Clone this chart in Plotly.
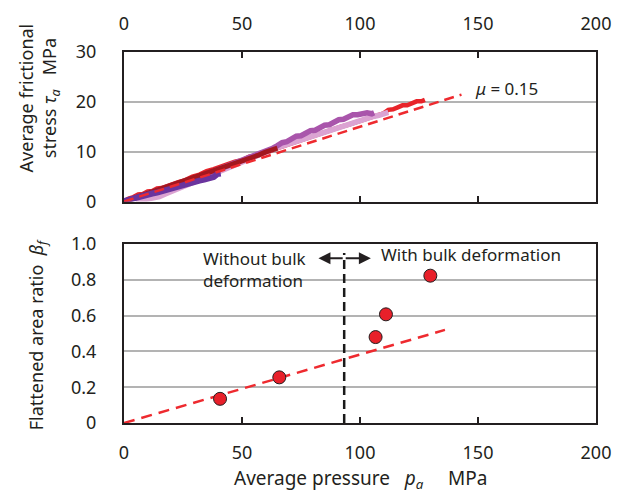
import plotly.graph_objects as go

# ---- Frictional stress curves (average pressure p_a, MPa -> tau_a, MPa) ----
red_p = [0, 2, 4, 6, 8, 10, 12, 14, 16, 18, 20, 23, 26, 29, 32, 35, 38, 41, 44, 47, 50,
         53, 56, 59, 62, 65, 68, 71, 74, 77, 80, 83, 86, 89, 92, 95, 98, 101, 104, 107,
         110, 112, 114, 116, 118, 120, 122, 124, 126, 127.5]
red_t = [0, 0.6, 0.9, 1.4, 1.5, 2.0, 2.1, 2.6, 2.7, 3.1, 3.3, 3.9, 4.3, 5.0, 5.4, 6.1, 6.5,
         7.1, 7.5, 8.0, 8.3, 9.0, 9.2, 9.9, 10.1, 10.7, 11.2, 11.7, 12.1, 12.7, 13.1, 13.6,
         14.1, 14.5, 15.0, 15.4, 15.9, 16.4, 16.8, 17.3, 17.7, 18.4, 18.5, 18.9, 19.3, 19.3,
         19.8, 20.1, 20.1, 20.4]

pink_p = [5, 7, 9, 11, 13, 15, 18, 22, 26, 30, 35, 40, 45, 50, 55, 60, 65, 70, 74, 78,
          82, 86, 90, 94, 98, 102, 105, 108, 110, 112]
pink_t = [0, 0.2, 0.3, 0.6, 0.7, 1.0, 1.6, 2.4, 3.3, 4.1, 5.1, 6.1, 7.0, 8.1, 9.0, 9.9,
          10.8, 11.6, 12.1, 12.8, 13.4, 14.1, 14.7, 15.2, 16.0, 16.5, 17.0, 17.3, 17.7,
          17.9]

magenta_p = [0, 4, 8, 12, 16, 20, 24, 28, 32, 36, 40, 44, 48, 52, 56, 60, 63, 65, 67, 69,
             71, 73, 75, 77, 79, 81, 83, 85, 87, 89, 91, 93, 95, 97, 99, 101, 103, 105, 106]
magenta_t = [0, 0.6, 1.2, 1.9, 2.5, 3.1, 3.8, 4.4, 5.0, 5.7, 6.4, 7.1, 7.8, 8.5, 9.3, 10.0,
             10.7, 11.2, 11.8, 12.0, 12.5, 13.1, 13.2, 13.7, 14.2, 14.3, 14.8, 15.3, 15.4,
             15.9, 16.4, 16.5, 17.0, 17.4, 17.4, 17.7, 17.8, 17.6, 17.8]

maroon_p = [0, 5, 10, 15, 20, 25, 30, 35, 40, 45, 48, 51, 54, 57, 60, 62, 64, 65]
maroon_t = [0, 0.8, 1.6, 2.4, 3.2, 4.0, 4.8, 5.6, 6.5, 7.3, 7.7, 8.3, 8.8, 9.3, 9.9, 10.2,
            10.5, 10.7]

violet_p = [0, 2, 4, 6, 8, 10, 12, 14, 16, 18, 20, 22, 24, 26, 28, 30, 32, 34, 36, 38,
            39.5, 41]
violet_t = [0.1, 0.4, 0.6, 0.9, 1.1, 1.4, 1.6, 1.8, 2.1, 2.3, 2.6, 2.9, 3.1, 3.4, 3.7,
            3.9, 4.2, 4.4, 4.7, 4.9, 5.5, 5.6]

# Coulomb friction reference line
mu = 0.15
mu_line_p = [0, 143]

# ---- Flattened area ratio ----
beta_p = [40.7, 65.8, 106.6, 111.0, 129.8]
beta_f = [0.135, 0.255, 0.48, 0.607, 0.823]

beta_fit_p = [0, 136]
beta_fit = [0, 0.52]

# boundary between regimes
bulk_p = 93.3
bulk_beta = [0, 0.95]

x_ticks = [0, 50, 100, 150, 200]
tau_ticks = [0, 10, 20, 30]
beta_ticks = [0, 0.2, 0.4, 0.6, 0.8, 1.0]
beta_tick_text = ["0", "0.2", "0.4", "0.6", "0.8", "1.0"]

FONT = "Noto Sans"
TXT = "#231f20"

fig = go.Figure()

curves = [
    (red_p, red_t, "#e8242a", 4.5),
    (pink_p, pink_t, "#dba3d2", 5.5),
    (magenta_p, magenta_t, "#a955ab", 5.5),
    (maroon_p, maroon_t, "#a3171f", 5),
    (violet_p, violet_t, "#6a349e", 6),
]
for px, ty, col, w in curves:
    fig.add_trace(go.Scatter(x=px, y=ty, mode="lines", xaxis="x", yaxis="y",
                             line=dict(color=col, width=w), showlegend=False))

fig.add_trace(go.Scatter(x=mu_line_p, y=[mu * p for p in mu_line_p], mode="lines",
                         xaxis="x", yaxis="y", showlegend=False,
                         line=dict(color="#ee2a2f", width=2.5, dash="10px,6px")))

# bottom panel
fig.add_trace(go.Scatter(x=beta_fit_p, y=beta_fit, mode="lines", xaxis="x2", yaxis="y2",
                         showlegend=False,
                         line=dict(color="#ee2a2f", width=2.5, dash="11px,7px")))
fig.add_trace(go.Scatter(x=[bulk_p, bulk_p], y=bulk_beta, mode="lines", xaxis="x2",
                         yaxis="y2", showlegend=False,
                         line=dict(color="#1a1a1a", width=2.5, dash="9px,5px")))
fig.add_trace(go.Scatter(x=beta_p, y=beta_f, mode="markers", xaxis="x2", yaxis="y2",
                         showlegend=False,
                         marker=dict(size=13, color="#e8202a",
                                     line=dict(color="#231f20", width=1))))

axis_common = dict(showline=True, linecolor="#231f20", linewidth=2,
                   zeroline=False, tickfont=dict(family=FONT, size=18, color=TXT))

fig.update_layout(
    width=629, height=493,
    margin=dict(l=124, r=33, t=52, b=70),
    paper_bgcolor="white", plot_bgcolor="white",
    xaxis=dict(domain=[0, 1], anchor="y", side="top", range=[0, 200], tickvals=x_ticks,
               mirror="allticks", ticks="inside", ticklen=6, tickwidth=1.5,
               tickcolor="#231f20", showgrid=False, ticklabelstandoff=13, **axis_common),
    yaxis=dict(domain=[0.597, 1], anchor="x", range=[0, 30], tickvals=tau_ticks,
               mirror=True, ticks="", showgrid=True, gridcolor="#b3b3b3", gridwidth=1.5,
               ticklabelstandoff=22, **axis_common),
    xaxis2=dict(domain=[0, 1], anchor="y2", side="bottom", range=[0, 200],
                tickvals=x_ticks, mirror=True, ticks="inside", ticklen=6, tickwidth=1.5,
                tickcolor="#231f20", showgrid=False, ticklabelstandoff=12, **axis_common),
    yaxis2=dict(domain=[0, 0.4825], anchor="x2", range=[0, 1], tickvals=beta_ticks,
                ticktext=beta_tick_text, mirror=True, ticks="", showgrid=True,
                gridcolor="#b3b3b3", gridwidth=1.5, ticklabelstandoff=22, **axis_common),
)

ann_font = dict(family=FONT, size=17, color=TXT)
title_font = dict(family=FONT, size=18, color=TXT)

annotations = [
    dict(text="<i>μ</i> = 0.15", x=148, y=22.7, xref="x", yref="y", xanchor="left",
         yanchor="middle", showarrow=False, font=ann_font),
    dict(text="Without bulk<br>deformation", x=32.7, y=0.995, xref="x2", yref="y2",
         xanchor="left", yanchor="top", align="left", showarrow=False, font=ann_font),
    dict(text="With bulk deformation", x=107.9, y=0.944, xref="x2", yref="y2",
         xanchor="left", yanchor="middle", showarrow=False, font=ann_font),
    # double-headed arrow
    dict(text="", x=82.4, y=0.92, ax=bulk_p, ay=0.92, xref="x2", yref="y2",
         axref="x2", ayref="y2", showarrow=True, arrowhead=2, arrowsize=1.2,
         arrowwidth=2, arrowcolor="#231f20"),
    dict(text="", x=104.6, y=0.92, ax=bulk_p, ay=0.92, xref="x2", yref="y2",
         axref="x2", ayref="y2", showarrow=True, arrowhead=2, arrowsize=1.2,
         arrowwidth=2, arrowcolor="#231f20"),
    # axis titles
    dict(text="Average frictional<br>stress <i>τ<sub>a</sub></i>   MPa", x=-0.18, y=0.875,
         xref="paper", yref="paper", xanchor="center", yanchor="middle", textangle=-90,
         showarrow=False, font=title_font),
    dict(text="Flattened area ratio  <i>β<sub>f</sub></i>", x=-0.184, y=0.237,
         xref="paper", yref="paper", xanchor="center", yanchor="middle", textangle=-90,
         showarrow=False, font=title_font),
    dict(text="Average pressure   <i>p<sub>a</sub></i>     MPa", x=0.502, y=-0.152,
         xref="paper", yref="paper", xanchor="center", yanchor="middle",
         showarrow=False, font=dict(family=FONT, size=19, color=TXT)),
]
fig.update_layout(annotations=annotations)

fig.write_html("out.html")
